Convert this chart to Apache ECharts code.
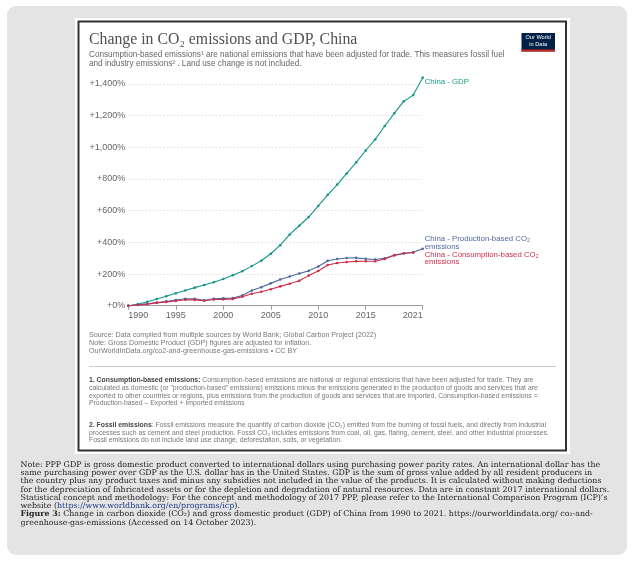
<!DOCTYPE html>
<html>
<head>
<meta charset="utf-8">
<script src="https://cdn.jsdelivr.net/npm/echarts@6/dist/echarts.min.js"></script>
<style>
  html, body { margin: 0; padding: 0; background: #fff; }
  #chart { width: 634px; height: 561px; }
</style>
</head>
<body>
<div id="chart"></div>
<script>
// data (% change since 1990)
const years = [1990, 1991, 1992, 1993, 1994, 1995, 1996, 1997, 1998, 1999, 2000,
  2001, 2002, 2003, 2004, 2005, 2006, 2007, 2008, 2009, 2010,
  2011, 2012, 2013, 2014, 2015, 2016, 2017, 2018, 2019, 2020, 2021]
const gdp = [0, 9, 25, 42, 60, 78, 96, 114, 131, 148, 169,
  192, 218, 250, 284, 328, 382, 450, 505, 560, 630,
  700, 765, 835, 905, 980, 1050, 1135, 1215, 1290, 1330, 1440]
const production = [0, 6, 12, 20, 27, 36, 44, 43, 34, 44, 46,
  48, 64, 96, 116, 141, 165, 184, 203, 220, 247,
  284, 295, 301, 302, 296, 292, 300, 318, 330, 337, 360]
// consumption-based data stops at 2020
const consumption = [0, 4, 10, 18, 24, 30, 38, 37, 31, 39, 40,
  43, 57, 75, 88, 104, 122, 139, 158, 190, 219,
  257, 270, 276, 280, 281, 281, 295, 319, 331, 336]
const shownYears = [1990, 1995, 2000, 2005, 2010, 2015, 2021]
const yTicks = { min: 0, max: 1400, step: 200 }

const SANS = 'Liberation Sans, Arial, sans-serif'
const SERIF = 'Liberation Serif, Times New Roman, serif'
const NOTE_SERIF = 'DejaVu Serif, serif'
const TEAL = '#14968a'
const BLUE = '#4f68a3'
const RED = '#cc2d4b'
const FN = 6.85
const NOTE = 7.9

function txt(x, y, text, size, color, extra) {
  return Object.assign({
    type: 'text', x: x, y: y, silent: true,
    style: Object.assign({
      text: text, fontSize: size, fontFamily: SANS, fill: color,
      verticalAlign: 'middle'
    }, extra || {})
  })
}

const fnRich = { b: { fontWeight: 'bold', fill: '#444', fontSize: FN, fontFamily: SANS } }

const footnote1 = [
  '{b|1. Consumption-based emissions:} Consumption-based emissions are national or regional emissions that have been adjusted for trade. They are',
  'calculated as domestic (or "production-based" emissions) emissions minus the emissions generated in the production of goods and services that are',
  'exported to other countries or regions, plus emissions from the production of goods and services that are imported. Consumption-based emissions =',
  'Production-based – Exported + Imported emissions'
]
const footnote2 = [
  '{b|2. Fossil emissions}: Fossil emissions measure the quantity of carbon dioxide (CO₂) emitted from the burning of fossil fuels, and directly from industrial',
  'processes such as cement and steel production. Fossil CO₂ includes emissions from coal, oil, gas, flaring, cement, steel, and other industrial processes.',
  'Fossil emissions do not include land use change, deforestation, soils, or vegetation.'
]
const notes = [
  'Note: PPP GDP is gross domestic product converted to international dollars using purchasing power parity rates. An international dollar has the',
  'same purchasing power over GDP as the U.S. dollar has in the United States. GDP is the sum of gross value added by all resident producers in',
  'the country plus any product taxes and minus any subsidies not included in the value of the products. It is calculated without making deductions',
  'for the depreciation of fabricated assets or for the depletion and degradation of natural resources. Data are in constant 2017 international dollars.',
  'Statistical concept and methodology: For the concept and methodology of 2017 PPP, please refer to the International Comparison Program (ICP)’s',
  'website ({u|https://www.worldbank.org/en/programs/icp}).'
]
const caption = [
  '{b|Figure 3:} Change in carbon dioxide (CO₂) and gross domestic product (GDP) of China from 1990 to 2021. https://ourworldindata.org/ co₂-and-',
  'greenhouse-gas-emissions (Accessed on 14 October 2023).'
]

const graphics = [
  { type: 'rect', silent: true, z: -10, shape: { x: 7, y: 6, width: 620, height: 549, r: 9 }, style: { fill: '#e4e4e4' } },
  { type: 'rect', silent: true, z: -9, shape: { x: 75, y: 18, width: 495, height: 436 }, style: { fill: '#fff' } },
  { type: 'rect', silent: true, z: -8, shape: { x: 78.5, y: 21.5, width: 487.5, height: 429 }, style: { fill: 'none', stroke: '#333', lineWidth: 2 } },
  // logo
  { type: 'rect', silent: true, shape: { x: 521.5, y: 33, width: 33.5, height: 18.5 }, style: { fill: '#002147' } },
  { type: 'rect', silent: true, shape: { x: 521.5, y: 49.5, width: 33.5, height: 2 }, style: { fill: '#ce261e' } },
  txt(538.2, 37.8, 'Our World', 5.6, '#fff', { align: 'center' }),
  txt(538.2, 44.2, 'in Data', 5.6, '#fff', { align: 'center' }),
  // title + subtitle
  txt(89, 40, 'Change in CO₂ emissions and GDP, China', 15.8, '#505050', { fontFamily: SERIF }),
  txt(89, 54.5, 'Consumption-based emissions¹ are national emissions that have been adjusted for trade. This measures fossil fuel', 8.2, '#666'),
  txt(89, 63.5, 'and industry emissions² . Land use change is not included.', 8.2, '#666'),
  // sources
  txt(89, 335.5, 'Source: Data compiled from multiple sources by World Bank; Global Carbon Project (2022)', 7.15, '#777'),
  txt(89, 343.5, 'Note: Gross Domestic Product (GDP) figures are adjusted for inflation.', 7.15, '#777'),
  txt(89, 351.5, 'OurWorldInData.org/co2-and-greenhouse-gas-emissions • CC BY', 7.15, '#777'),
  { type: 'line', silent: true, shape: { x1: 89, y1: 366.5, x2: 556, y2: 366.5 }, style: { stroke: '#ccc', lineWidth: 1 } }
]
footnote1.forEach((l, i) => graphics.push(txt(89, 380.5 + i * 7.7, l, FN, '#777', { rich: fnRich })))
footnote2.forEach((l, i) => graphics.push(txt(89, 425 + i * 7.7, l, FN, '#777', { rich: fnRich })))

const noteRich = {
  b: { fontWeight: 'bold', fontFamily: NOTE_SERIF, fontSize: NOTE, fill: '#222' },
  u: { fontFamily: NOTE_SERIF, fontSize: NOTE, fill: '#1a3a8a' }
}
notes.forEach((l, i) => graphics.push(txt(20.5, 465 + i * 8.2, l, NOTE, '#222', { fontFamily: NOTE_SERIF, rich: noteRich })))
caption.forEach((l, i) => graphics.push(txt(20.5, 514.3 + i * 8.2, l, NOTE, '#222', { fontFamily: NOTE_SERIF, rich: noteRich })))

const chart = echarts.init(document.getElementById('chart'))

const yearShown = (idx, val) => shownYears.indexOf(Number(val)) >= 0

chart.setOption({
  animation: false,
  backgroundColor: '#fff',
  grid: { left: 128.3, right: 211.3, top: 84, bottom: 255.3, containLabel: false },
  xAxis: {
    type: 'category',
    data: years,
    boundaryGap: false,
    axisLine: { lineStyle: { color: '#999', width: 1 } },
    axisTick: { interval: yearShown, length: 4, lineStyle: { color: '#999' } },
    axisLabel: {
      interval: yearShown, color: '#666', fontSize: 9, fontFamily: SANS, margin: 5,
      alignMinLabel: 'left', alignMaxLabel: 'right'
    },
    splitLine: { show: false }
  },
  yAxis: {
    type: 'value',
    min: yTicks.min, max: yTicks.max, interval: yTicks.step,
    axisLine: { show: false },
    axisTick: { show: false },
    axisLabel: {
      color: '#666', fontSize: 9, fontFamily: SANS, margin: 3,
      formatter: v => '+' + v.toLocaleString('en-US') + '%'
    },
    splitLine: { lineStyle: { color: '#ddd', type: [1.5, 2] } }
  },
  series: [
    {
      name: 'China - GDP', type: 'line', data: gdp, clip: false,
      symbol: 'circle', symbolSize: 2.6, color: TEAL, lineStyle: { width: 1.1 },
      endLabel: { show: true, formatter: 'China - GDP', color: TEAL, fontSize: 7.8, fontFamily: SANS, distance: 2, offset: [0, 4] }
    },
    {
      name: 'China - Production-based CO₂ emissions', type: 'line', data: production, clip: false,
      symbol: 'circle', symbolSize: 2.6, color: BLUE, lineStyle: { width: 1.1 },
      endLabel: {
        show: true, formatter: 'China - Production-based CO₂\nemissions', color: BLUE,
        fontSize: 7.8, lineHeight: 7.5, fontFamily: SANS, distance: 2, offset: [0, -6]
      }
    },
    {
      name: 'China - Consumption-based CO₂ emissions', type: 'line', data: consumption, clip: false,
      symbol: 'circle', symbolSize: 2.6, color: RED, lineStyle: { width: 1.1 },
      endLabel: {
        show: true, formatter: 'China - Consumption-based CO₂\nemissions', color: RED,
        fontSize: 7.8, lineHeight: 7.5, fontFamily: SANS, distance: 2, offset: [9.5, 6]
      }
    }
  ],
  graphic: graphics
})
</script>
</body>
</html>
